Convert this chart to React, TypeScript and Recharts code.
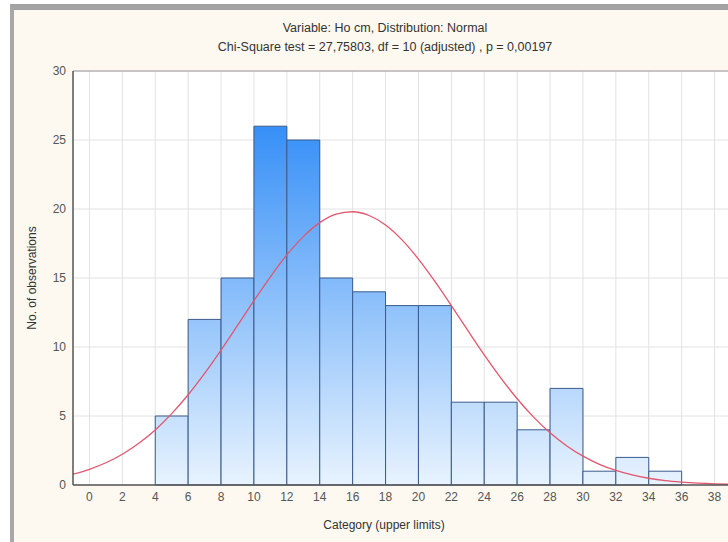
import React from "react";
import {
  ComposedChart,
  Line,
  XAxis,
  YAxis,
  CartesianGrid,
  ReferenceArea,
  ReferenceLine,
} from "recharts";

// Histogram bins (upper limits) and observed counts
const binUpper = [6, 8, 10, 12, 14, 16, 18, 20, 22, 24, 26, 28, 30, 32, 34, 36];
const binCounts = [5, 12, 15, 26, 25, 15, 14, 13, 13, 6, 6, 4, 7, 1, 2, 1];
const binWidth = 2;

// Fitted normal curve
const curveX = [
  -1, 0, 1, 2, 3, 4, 5, 6, 7, 8, 9, 10, 11, 12, 13, 14, 15, 16, 17, 18, 19,
  20, 21, 22, 23, 24, 25, 26, 27, 28, 29, 30, 31, 32, 33, 34, 35, 36, 37, 38, 39,
];
const curveY = [
  0.78, 1.14, 1.61, 2.23, 3.02, 3.99, 5.17, 6.54, 8.09, 9.78, 11.56, 13.36,
  15.09, 16.67, 18.0, 19.01, 19.62, 19.8, 19.53, 18.84, 17.76, 16.37, 14.75,
  13.0, 11.2, 9.43, 7.77, 6.25, 4.92, 3.78, 2.85, 2.09, 1.5, 1.06, 0.73, 0.49,
  0.32, 0.21, 0.13, 0.08, 0.05,
];

const xTicks = [0, 2, 4, 6, 8, 10, 12, 14, 16, 18, 20, 22, 24, 26, 28, 30, 32, 34, 36, 38];
const yTicks = [0, 5, 10, 15, 20, 25, 30];

const titleLine1 = "Variable: Ho cm, Distribution: Normal";
const titleLine2 = "Chi-Square test = 27,75803, df = 10 (adjusted) , p = 0,00197";
const xLabel = "Category (upper limits)";
const yLabel = "No. of observations";

const curveData = curveX.map((x, i) => ({ x, y: curveY[i] }));

const FONT = "'Liberation Sans', Arial, sans-serif";

export default function App() {
  return (
    <div
      style={{
        position: "fixed",
        left: 0,
        top: 0,
        width: 728,
        height: 542,
        overflow: "hidden",
        background: "#ffffff",
        fontFamily: FONT,
      }}
    >
      <div
        style={{
          position: "absolute",
          left: 10,
          top: 4,
          width: 740,
          height: 534,
          background: "#fdf9f0",
          borderTop: "6px solid #a2a2a2",
          borderLeft: "4px solid #a8a8a8",
          borderBottom: "1px solid #d8d8d8",
        }}
      />
      <div
        style={{
          position: "absolute",
          left: 0,
          width: 770,
          top: 19,
          textAlign: "center",
          fontSize: 12.5,
          color: "#333",
          lineHeight: "18px",
        }}
      >
        <div>{titleLine1}</div>
        <div style={{ marginTop: 1 }}>{titleLine2}</div>
      </div>
      <div
        style={{
          position: "absolute",
          left: 0,
          width: 768,
          top: 516,
          textAlign: "center",
          fontSize: 12,
          color: "#333",
          lineHeight: "18px",
        }}
      >
        {xLabel}
      </div>
      <div
        style={{
          position: "absolute",
          left: 32,
          top: 278,
          transform: "translate(-50%, -50%) rotate(-90deg)",
          whiteSpace: "nowrap",
          fontSize: 12,
          color: "#333",
          lineHeight: "16px",
        }}
      >
        {yLabel}
      </div>
      <div style={{ position: "absolute", left: 0, top: 0 }}>
        <ComposedChart
          width={760}
          height={542}
          data={curveData}
          margin={{ top: 71, right: 29, bottom: 27, left: 33 }}
        >
          <defs>
            <linearGradient
              id="barGrad"
              gradientUnits="userSpaceOnUse"
              x1="0"
              y1="71"
              x2="0"
              y2="485"
            >
              <stop offset="0%" stopColor="#1b80f6" />
              <stop offset="100%" stopColor="#e8f3fe" />
            </linearGradient>
          </defs>
          <CartesianGrid
            stroke="#e2e2e2"
            fill="#ffffff"
            verticalValues={xTicks}
            horizontalValues={yTicks}
          />
          <XAxis
            dataKey="x"
            type="number"
            domain={[-1, 39]}
            ticks={xTicks}
            interval={0}
            allowDataOverflow
            height={30}
            tickLine={false}
            tickSize={0}
            tickMargin={7}
            axisLine={{ stroke: "#555", strokeWidth: 1.5 }}
            tick={{ fill: "#555", fontSize: 12, fontFamily: FONT }}
          />
          <YAxis
            type="number"
            domain={[0, 30]}
            ticks={yTicks}
            interval={0}
            width={40}
            tickLine={false}
            tickSize={0}
            tickMargin={7}
            axisLine={{ stroke: "#555", strokeWidth: 1.5 }}
            tick={{ fill: "#555", fontSize: 12, fontFamily: FONT }}
          />
          <ReferenceLine y={30} stroke="#9a9a9a" strokeWidth={1} />
          {binUpper.map((u, i) => (
            <ReferenceArea
              key={u}
              x1={u - binWidth}
              x2={u}
              y1={0}
              y2={binCounts[i]}
              fill="url(#barGrad)"
              fillOpacity={1}
              stroke="#3a5a8c"
              strokeWidth={1}
            />
          ))}
          <Line
            type="monotone"
            dataKey="y"
            stroke="#e2566e"
            strokeWidth={1.3}
            dot={false}
            activeDot={false}
            isAnimationActive={false}
          />
        </ComposedChart>
      </div>
    </div>
  );
}
